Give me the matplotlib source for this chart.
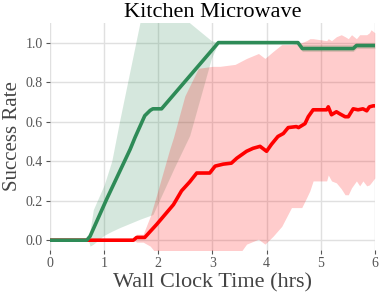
import matplotlib
matplotlib.use("Agg")
import matplotlib.pyplot as plt
import numpy as np

plt.rcParams['font.family'] = ['Liberation Serif', 'DejaVu Serif']

title = "Kitchen Microwave"
xlabel = "Wall Clock Time (hrs)"
ylabel = "Success Rate"
xticks = [0, 1, 2, 3, 4, 5, 6]
yticks = [0.0, 0.2, 0.4, 0.6, 0.8, 1.0]

# Green series (mean and band)
g_t = [0, 0.68, 0.74, 1.05, 1.48, 1.57, 1.75, 1.85, 1.9, 2.06, 3.11, 4.58, 4.66, 5.6, 5.66, 6.0]
g_mean = [0, 0, 0.02, 0.21, 0.46, 0.52, 0.63, 0.657, 0.665, 0.665, 1.0, 1.0, 0.97, 0.97, 0.985, 0.985]

g_band_t = [0, 0.68, 0.72, 0.74, 0.80, 1.0, 1.14, 1.29, 1.66, 1.9, 2.3, 2.58, 2.98, 3.11, 4.58, 4.66, 5.6, 5.66, 6.0]
g_upper = [0, 0, 0.02, 0.05, 0.155, 0.28, 0.40, 0.61, 1.10, 1.35, 1.3, 1.10, 1.01, 1.0, 1.0, 0.99, 0.99, 1.0, 1.0]
g_lower = [0, 0, -0.01, -0.03, -0.02, 0.025, 0.045, 0.064, 0.106, 0.13, 0.37, 0.53, 0.92, 1.0, 1.0, 0.955, 0.955, 0.97, 0.97]

# Red series (mean and band)
r_t = [0, 0.68, 1.54, 1.6, 1.75, 1.97, 2.28, 2.43, 2.58, 2.71, 2.95, 3.05, 3.2, 3.35, 3.45, 3.63,
       3.75, 3.88, 4.0, 4.09, 4.21, 4.31, 4.4, 4.55, 4.59, 4.71, 4.77, 4.86, 5.11, 5.14, 5.2,
       5.29, 5.35, 5.45, 5.51, 5.6, 5.69, 5.78, 5.85, 5.9, 5.97, 6.0]
r_mean = [0, 0, 0, 0.014, 0.014, 0.08, 0.18, 0.25, 0.295, 0.34, 0.34, 0.375, 0.385, 0.39, 0.415, 0.45,
          0.465, 0.475, 0.45, 0.485, 0.525, 0.54, 0.57, 0.575, 0.57, 0.59, 0.625, 0.66, 0.66, 0.675, 0.635,
          0.65, 0.64, 0.625, 0.625, 0.665, 0.66, 0.665, 0.655, 0.675, 0.68, 0.68]

r_band_t = [1.54, 1.6, 1.72, 1.85, 1.97, 2.21, 2.28, 2.49, 2.74, 3.0, 3.14, 3.42, 3.63, 3.85, 3.97,
            4.12, 4.28, 4.46, 4.65, 4.74, 4.8, 4.86, 5.11, 5.14, 5.2, 5.29, 5.38, 5.45, 5.51, 5.57,
            5.66, 5.72, 5.78, 5.85, 5.9, 5.93, 6.0]
r_upper = [0.0, 0.03, 0.03, 0.12, 0.23, 0.46, 0.52, 0.73, 0.87, 0.88, 0.88, 0.89, 0.92, 0.945, 0.92,
           0.955, 0.99, 0.99, 1.0, 1.01, 1.02, 1.02, 1.01, 1.02, 1.01, 1.03, 1.04, 1.03, 1.02, 1.04,
           1.02, 1.04, 1.04, 1.04, 1.05, 1.065, 1.05]
r_lower = [0.0, -0.01, -0.01, -0.03, -0.07, -0.1, -0.1, -0.1, -0.1, -0.1, -0.1, -0.1, -0.02, 0.005, -0.02,
           0.02, 0.07, 0.165, 0.165, 0.215, 0.25, 0.30, 0.30, 0.33, 0.30, 0.29, 0.26, 0.23, 0.23, 0.265,
           0.30, 0.275, 0.30, 0.275, 0.28, 0.29, 0.315]

green = '#2e8b57'
red = '#ff0000'

fig = plt.figure(figsize=(3.79, 2.97), dpi=100)
ax = fig.add_axes([0.132, 0.158, 0.857, 0.765])

ax.grid(True, color='#e0e0e0', linewidth=1.0, zorder=0)
ax.set_axisbelow(True)
for s in ax.spines.values():
    s.set_visible(False)

ax.fill_between(g_band_t, g_lower, g_upper, color=green, alpha=0.2, linewidth=0, zorder=1)
ax.fill_between(r_band_t, r_lower, r_upper, color=red, alpha=0.2, linewidth=0, zorder=1)
ax.plot(r_t, r_mean, color=red, linewidth=2.6, zorder=3)
ax.plot(g_t, g_mean, color=green, linewidth=2.6, zorder=4)

ax.set_xlim(0, 6)
ax.set_ylim(-0.05, 1.1)
ax.set_xticks(xticks)
ax.set_yticks(yticks)
ax.set_xticklabels([str(v) for v in xticks])
ax.set_yticklabels([f"{v:.1f}" for v in yticks])
ax.tick_params(axis='both', labelsize=10, colors='#555555', length=3, width=0.8, pad=2)

ax.set_title(title, fontsize=16, pad=4)
ax.set_xlabel(xlabel, fontsize=16, color='#444444', labelpad=2)
ax.set_ylabel(ylabel, fontsize=15, color='#444444', labelpad=3)

fig.savefig('out.png', dpi=100)
